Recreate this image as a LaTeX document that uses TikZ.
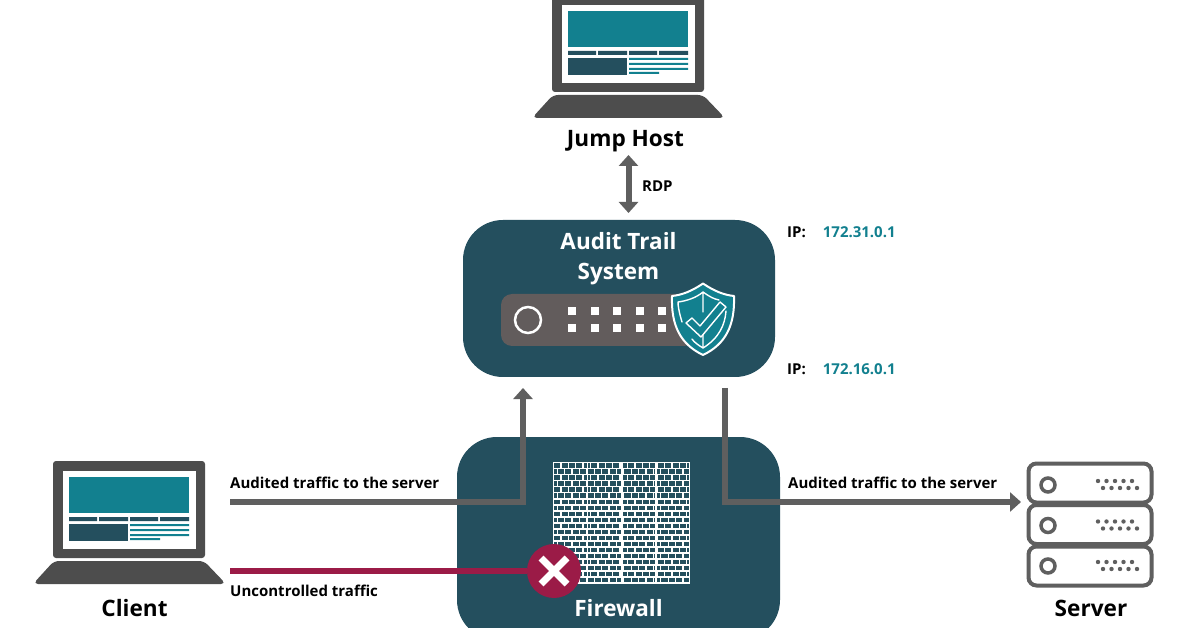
\documentclass[tikz,border=0pt]{standalone}
\usepackage{fontspec}
\setmainfont{Open Sans}[BoldFont={Open Sans Bold}]
\usetikzlibrary{arrows.meta,shapes.misc}
\definecolor{dteal}{HTML}{244F5E}
\definecolor{teal2}{HTML}{12808F}
\definecolor{greyd}{HTML}{4D4D4D}
\definecolor{greyl}{HTML}{5F5F5F}
\definecolor{greybar}{HTML}{625C5C}
\definecolor{crim}{HTML}{9B1B47}
\tikzset{
  x=1pt,y=-1pt,
  panel/.style={fill=dteal,draw=none,rounded corners=40pt,inner sep=0pt},
  biglabel/.style={font=\fontsize{22.6}{27}\selectfont\bfseries,text=black,inner sep=0pt},
  panellabel/.style={font=\fontsize{22.5}{30}\selectfont\bfseries,text=white,inner sep=0pt,align=center},
  smalllabel/.style={font=\fontsize{15}{18}\selectfont\bfseries,text=black,inner sep=0pt,anchor=west},
  wire/.style={draw=greyl,line width=6pt},
  wirearrow/.style={wire,-{Triangle[length=11pt,width=19pt]}},
  wirebi/.style={wire,{Triangle[length=11pt,width=19pt]}-{Triangle[length=11pt,width=19pt]}},
  rack/.style={draw=greyl,line width=4pt,rounded corners=8pt,fill=white,minimum width=123pt,minimum height=39pt,inner sep=0pt},
  laptop/.pic={
    \fill[greyd,rounded corners=3pt] (53,461) rectangle (205,558);
    \fill[white] (63,471) rectangle (196,549);
    \fill[teal2] (69,477) rectangle (189,513);
    \fill[dteal] (69,517) rectangle (97,521) (99,517) rectangle (128,521) (130,517) rectangle (158,521) (160,517) rectangle (189,521);
    \fill[dteal] (69,524) rectangle (128,541);
    \fill[teal2] (130,524) rectangle (189,526) (130,529) rectangle (189,531) (130,534) rectangle (189,536) (130,538) rectangle (160,540);
    \fill[greyd,rounded corners=5pt] (54,561) -- (204,561) -- (226,584) -- (33,584) -- cycle;
  }
}
\begin{document}
\begin{tikzpicture}
\useasboundingbox (0,0) rectangle (1200,628);
\clip (0,0) rectangle (1200,628);
\fill[white] (0,0) rectangle (1200,628);
% laptops
\pic at (0,0) {laptop};
\pic at (499,-466) {laptop};
% panels
\node[panel,minimum width=312pt,minimum height=157pt] (audit) at (619,298.5) {};
\node[panel,minimum width=323pt,minimum height=203pt] (fw) at (618.5,538.5) {};
% named connector ends
\coordinate (clientA) at (230,502);
\coordinate (clientB) at (230,571);
\coordinate (auditIn) at (523,388);
\coordinate (auditOut) at (725,388);
\coordinate (serverIn) at (1021,502);
\coordinate (jumpEnd) at (628.5,155);
\coordinate (auditTop) at (628.5,213);
% device
\fill[greybar,rounded corners=11pt] (501,294) rectangle (695,346);
\draw[white,line width=2.5pt] (528,320) circle[radius=13];
\foreach \xx in {572,594.5,617,639.5,662}
  \foreach \yy in {311,328}
    \fill[white] (\xx-4,\yy-4) rectangle (\xx+4,\yy+4);
% shield
\draw[white,fill=teal2,line width=2pt,line join=round] (703,283.5)
  .. controls (714,291) and (724,295) .. (734,296)
  .. controls (735,325) and (726,344) .. (703,355)
  .. controls (680,344) and (671,325) .. (672,296)
  .. controls (682,295) and (692,291) .. (703,283.5) -- cycle;
\draw[white,line width=1.4pt,line cap=round,line join=round]
  (682,322) .. controls (679,312) and (678,306) .. (678,302) .. controls (686,301) and (696,298) .. (703,292) .. controls (710,297) and (714,299) .. (719,300)
  (703,292) -- (703,312)
  (726,311) .. controls (725,325) and (719,338) .. (703,348) .. controls (698,345) and (694,342) .. (692,339)
  (703,348) -- (703,335);
\draw[white,line width=1.4pt,line join=round] (686,323) -- (692,318) -- (700,326) -- (720,302) -- (726,307) -- (701,337) -- cycle;
% wall
\draw[white,line width=1.4pt] (553.5,462.5) rectangle (689.5,583);
\foreach \r in {0,...,19}{
  \pgfmathsetmacro{\ya}{462.5+6.025*\r}
  \pgfmathsetmacro{\yb}{\ya+6.025}
  \draw[white,line width=1.7pt] (553.5,\yb) -- (689.5,\yb);
  \pgfmathsetmacro{\off}{mod(\r,2)*3.7}
  \foreach \k in {0,...,18}{
    \pgfmathsetmacro{\xa}{553.5+\off+7.4*\k}
    \ifdim \xa pt<689pt
      \draw[white,line width=1.3pt] (\xa,\ya) -- (\xa,\yb);
    \fi
  }
}
\draw[white,line width=1.2pt] (587.5,462.5) -- (587.5,583) (622,462.5) -- (622,583) (656,462.5) -- (656,583);
% connectors
\draw[wirearrow] (clientA) -- (523,502) -- (auditIn);
\draw[wirearrow] (auditOut) -- (725,502) -- (serverIn);
\draw[wirebi] (jumpEnd) -- (auditTop);
\node[circle,fill=crim,minimum size=54pt,inner sep=0pt] (block) at (554,571) {};
\draw[draw=crim,line width=6pt] (clientB) -- (block);
\draw[white,line width=7pt] (541,558) -- (567,584) (567,558) -- (541,584);
% server
\node[rack] (s1) at (1090,483) {};
\node[rack] (s2) at (1090,524.5) {};
\node[rack] (s3) at (1090,566) {};
\foreach \yy in {485,525.5,566}{
  \draw[greyl,line width=3.5pt] (1048,\yy) circle[radius=7];
  \foreach \xx in {1098,1106.5,1115,1123.5,1132}{
    \fill[greyl] (\xx,\yy-4) circle[radius=2.2];
    \fill[greyl] (\xx+5,\yy+3) circle[radius=2.2];
  }
}
% labels
\node[biglabel] (jump) at (625.5,141) {Jump Host};
\node[biglabel] (client) at (134.5,608) {Client};
\node[biglabel] (server) at (1091,608) {Server};
\node[panellabel] (auditlabel) at (618.5,258.5) {Audit Trail\\System};
\node[panellabel] (fwlabel) at (618.5,608) {Firewall};
\node[smalllabel] (rdp) at (642,186.5) {RDP};
\node[smalllabel] (ip1) at (787,232.5) {IP:\hspace{17pt}\textcolor{teal2}{172.31.0.1}};
\node[smalllabel] (ip2) at (787,369.5) {IP:\hspace{17pt}\textcolor{teal2}{172.16.0.1}};
\node[smalllabel] (t1) at (230,482.8) {Audited traffic to the server};
\node[smalllabel] (t2) at (788,482.8) {Audited traffic to the server};
\node[smalllabel] (t3) at (230,590.8) {Uncontrolled traffic};
\end{tikzpicture}
\end{document}
